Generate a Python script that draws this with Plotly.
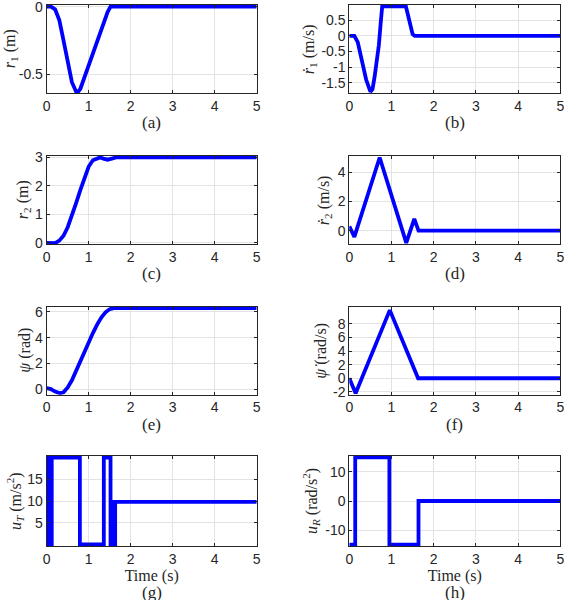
import plotly.graph_objects as go
from plotly.subplots import make_subplots

# time points and values
t_r1 = [0, 0.1, 0.2, 0.3, 0.4, 0.5, 0.6, 0.7, 0.75, 0.8, 1.0, 1.2, 1.35, 1.45, 1.52, 5]
r1 = [0, 0, -0.02, -0.10, -0.25, -0.42, -0.56, -0.63, -0.63, -0.61, -0.43, -0.25, -0.11, -0.04, 0, 0]

t_r1d = [0, 0.12, 0.2, 0.3, 0.4, 0.5, 0.55, 0.6, 0.7, 0.75, 0.78, 1.34, 1.4, 1.45, 1.5, 1.55, 5]
r1d = [0, 0, -0.2, -0.75, -1.4, -1.78, -1.7, -1.3, -0.3, 0.5, 0.94, 0.94, 0.6, 0.25, 0.05, 0, 0]

t_r2 = [0, 0.2, 0.3, 0.4, 0.5, 0.6, 0.7, 0.8, 0.9, 1.0, 1.1, 1.2, 1.27, 1.35, 1.45, 1.55, 1.65, 5]
r2 = [0, -0.01, 0.08, 0.25, 0.55, 0.95, 1.4, 1.85, 2.3, 2.68, 2.9, 2.98, 3.0, 2.96, 2.92, 2.96, 3.0, 3.0]

t_r2d = [0, 0.12, 0.72, 1.35, 1.54, 1.64, 5]
r2d = [0.3, -0.42, 5.0, -0.83, 0.81, 0, 0]

t_psi = [0, 0.1, 0.2, 0.32, 0.4, 0.5, 0.6, 0.7, 0.8, 0.9, 1.0, 1.1, 1.2, 1.3, 1.4, 1.5, 1.6, 5]
psi = [0.1, 0.02, -0.17, -0.3, -0.22, 0.15, 0.7, 1.45, 2.28, 3.0, 3.65, 4.35, 5.0, 5.55, 5.95, 6.2, 6.283, 6.283]

t_psid = [0, 0.15, 0.96, 1.63, 5]
psid = [0, -2.2, 10.0, 0, 0]

t_uT = [0, 0, 0.03, 0.03, 0.06, 0.06, 0.09, 0.09, 0.12, 0.12, 0.79, 0.79, 1.36, 1.36,
        1.52, 1.52, 1.55, 1.55, 1.59, 1.59, 1.63, 1.63, 5]
uT = [0, 20, 20, 0, 0, 20, 20, 0, 0, 20, 20, 0, 0, 20,
      20, 0, 0, 9.81, 9.81, 0, 0, 9.81, 9.81]

t_uR = [0, 0.14, 0.14, 0.95, 0.95, 1.64, 1.64, 5]
uR = [-15, -15, 15, 15, -15, -15, 0, 0]

panels = [
    (t_r1, r1, "<i>r</i><sub>1</sub> (m)", [-0.5, 0], ["-0.5", "0"], [-0.642, 0.012], "(a)"),
    (t_r1d, r1d, "<i>ṙ</i><sub>1</sub> (m/s)", [-1.5, -1, -0.5, 0, 0.5],
     ["-1.5", "-1", "-0.5", "0", "0.5"], [-1.83, 0.98], "(b)"),
    (t_r2, r2, "<i>r</i><sub>2</sub> (m)", [0, 1, 2, 3], ["0", "1", "2", "3"], [-0.05, 3.05], "(c)"),
    (t_r2d, r2d, "<i>ṙ</i><sub>2</sub> (m/s)", [0, 2, 4], ["0", "2", "4"], [-0.93, 5.1], "(d)"),
    (t_psi, psi, "<i>ψ</i> (rad)", [0, 2, 4, 6], ["0", "2", "4", "6"], [-0.41, 6.39], "(e)"),
    (t_psid, psid, "<i>ψ̇</i> (rad/s)", [-2, 0, 2, 4, 6, 8],
     ["-2", "0", "2", "4", "6", "8"], [-2.41, 10.51], "(f)"),
    (t_uT, uT, "<i>u</i><sub><i>T</i></sub> (m/s<sup>2</sup>)", [5, 10, 15],
     ["5", "10", "15"], [-0.34, 20.34], "(g)"),
    (t_uR, uR, "<i>u</i><sub><i>R</i></sub> (rad/s<sup>2</sup>)", [-10, 0, 10],
     ["-10", "0", "10"], [-15.5, 15.5], "(h)"),
]

xdom = [[46.7 / 564, 256.7 / 564], [349.3 / 564, 560.3 / 564]]
ydom = [[0.8445, 0.9917], [0.5928, 0.74], [0.3422, 0.4889], [0.09, 0.24]]
cap_y = [0.795, 0.545, 0.2917, 0.012]
# horizontal centre (px) of each rotated y label, as placed in the reference
ylab_x = [10, 309, 23, 324, 25, 321, 15, 311]

serif = "Liberation Serif"
sans = "Liberation Sans"
axcol = "#262626"

fig = make_subplots(rows=4, cols=2)

for i, (tt, vv, ylab, tv, tx, yr, cap) in enumerate(panels):
    row = i // 2 + 1
    col = i % 2 + 1
    fig.add_trace(go.Scatter(x=tt, y=vv, mode="lines",
                             line=dict(color="#0000ff", width=3.8),
                             showlegend=False), row=row, col=col)
    fig.update_xaxes(domain=xdom[col - 1], range=[0, 5], tickvals=[0, 1, 2, 3, 4, 5],
                     row=row, col=col)
    fig.update_yaxes(domain=ydom[row - 1], range=yr, tickvals=tv, ticktext=tx,
                     row=row, col=col)
    if row == 4:
        fig.update_xaxes(title=dict(text="Time (s)", font=dict(family=serif, size=16, color=axcol),
                                    standoff=0), row=row, col=col)
    fig.add_annotation(text=ylab, xref="paper", yref="paper",
                       x=ylab_x[i] / 564, y=sum(ydom[row - 1]) / 2, textangle=-90,
                       showarrow=False, xanchor="center", yanchor="middle",
                       font=dict(family=serif, size=16, color=axcol))
    fig.add_annotation(text=cap, xref="paper", yref="paper",
                       x=sum(xdom[col - 1]) / 2, y=cap_y[row - 1],
                       showarrow=False, xanchor="center", yanchor="middle",
                       font=dict(family=serif, size=17, color=axcol))

fig.update_xaxes(showline=True, linecolor=axcol, linewidth=1, mirror="ticks",
                 ticks="inside", ticklen=3, tickcolor=axcol, automargin=False,
                 ticklabeloverflow="allow",
                 showgrid=True, gridcolor="#e3e3e3", zeroline=False,
                 tickfont=dict(family=sans, size=14, color=axcol))
fig.update_yaxes(showline=True, linecolor=axcol, linewidth=1, mirror="ticks",
                 ticks="inside", ticklen=3, tickcolor=axcol, automargin=False,
                 ticklabeloverflow="allow",
                 showgrid=True, gridcolor="#e3e3e3", zeroline=False,
                 tickfont=dict(family=sans, size=14, color=axcol))

fig.update_layout(template="none", width=564, height=600,
                  margin=dict(l=0, r=0, t=0, b=0),
                  plot_bgcolor="white", paper_bgcolor="white")

# drop the browser's default body margin so the figure sits at the window corner
fig.write_html("out.html", config={"displayModeBar": False},
               post_script="document.body.style.margin='0';")
